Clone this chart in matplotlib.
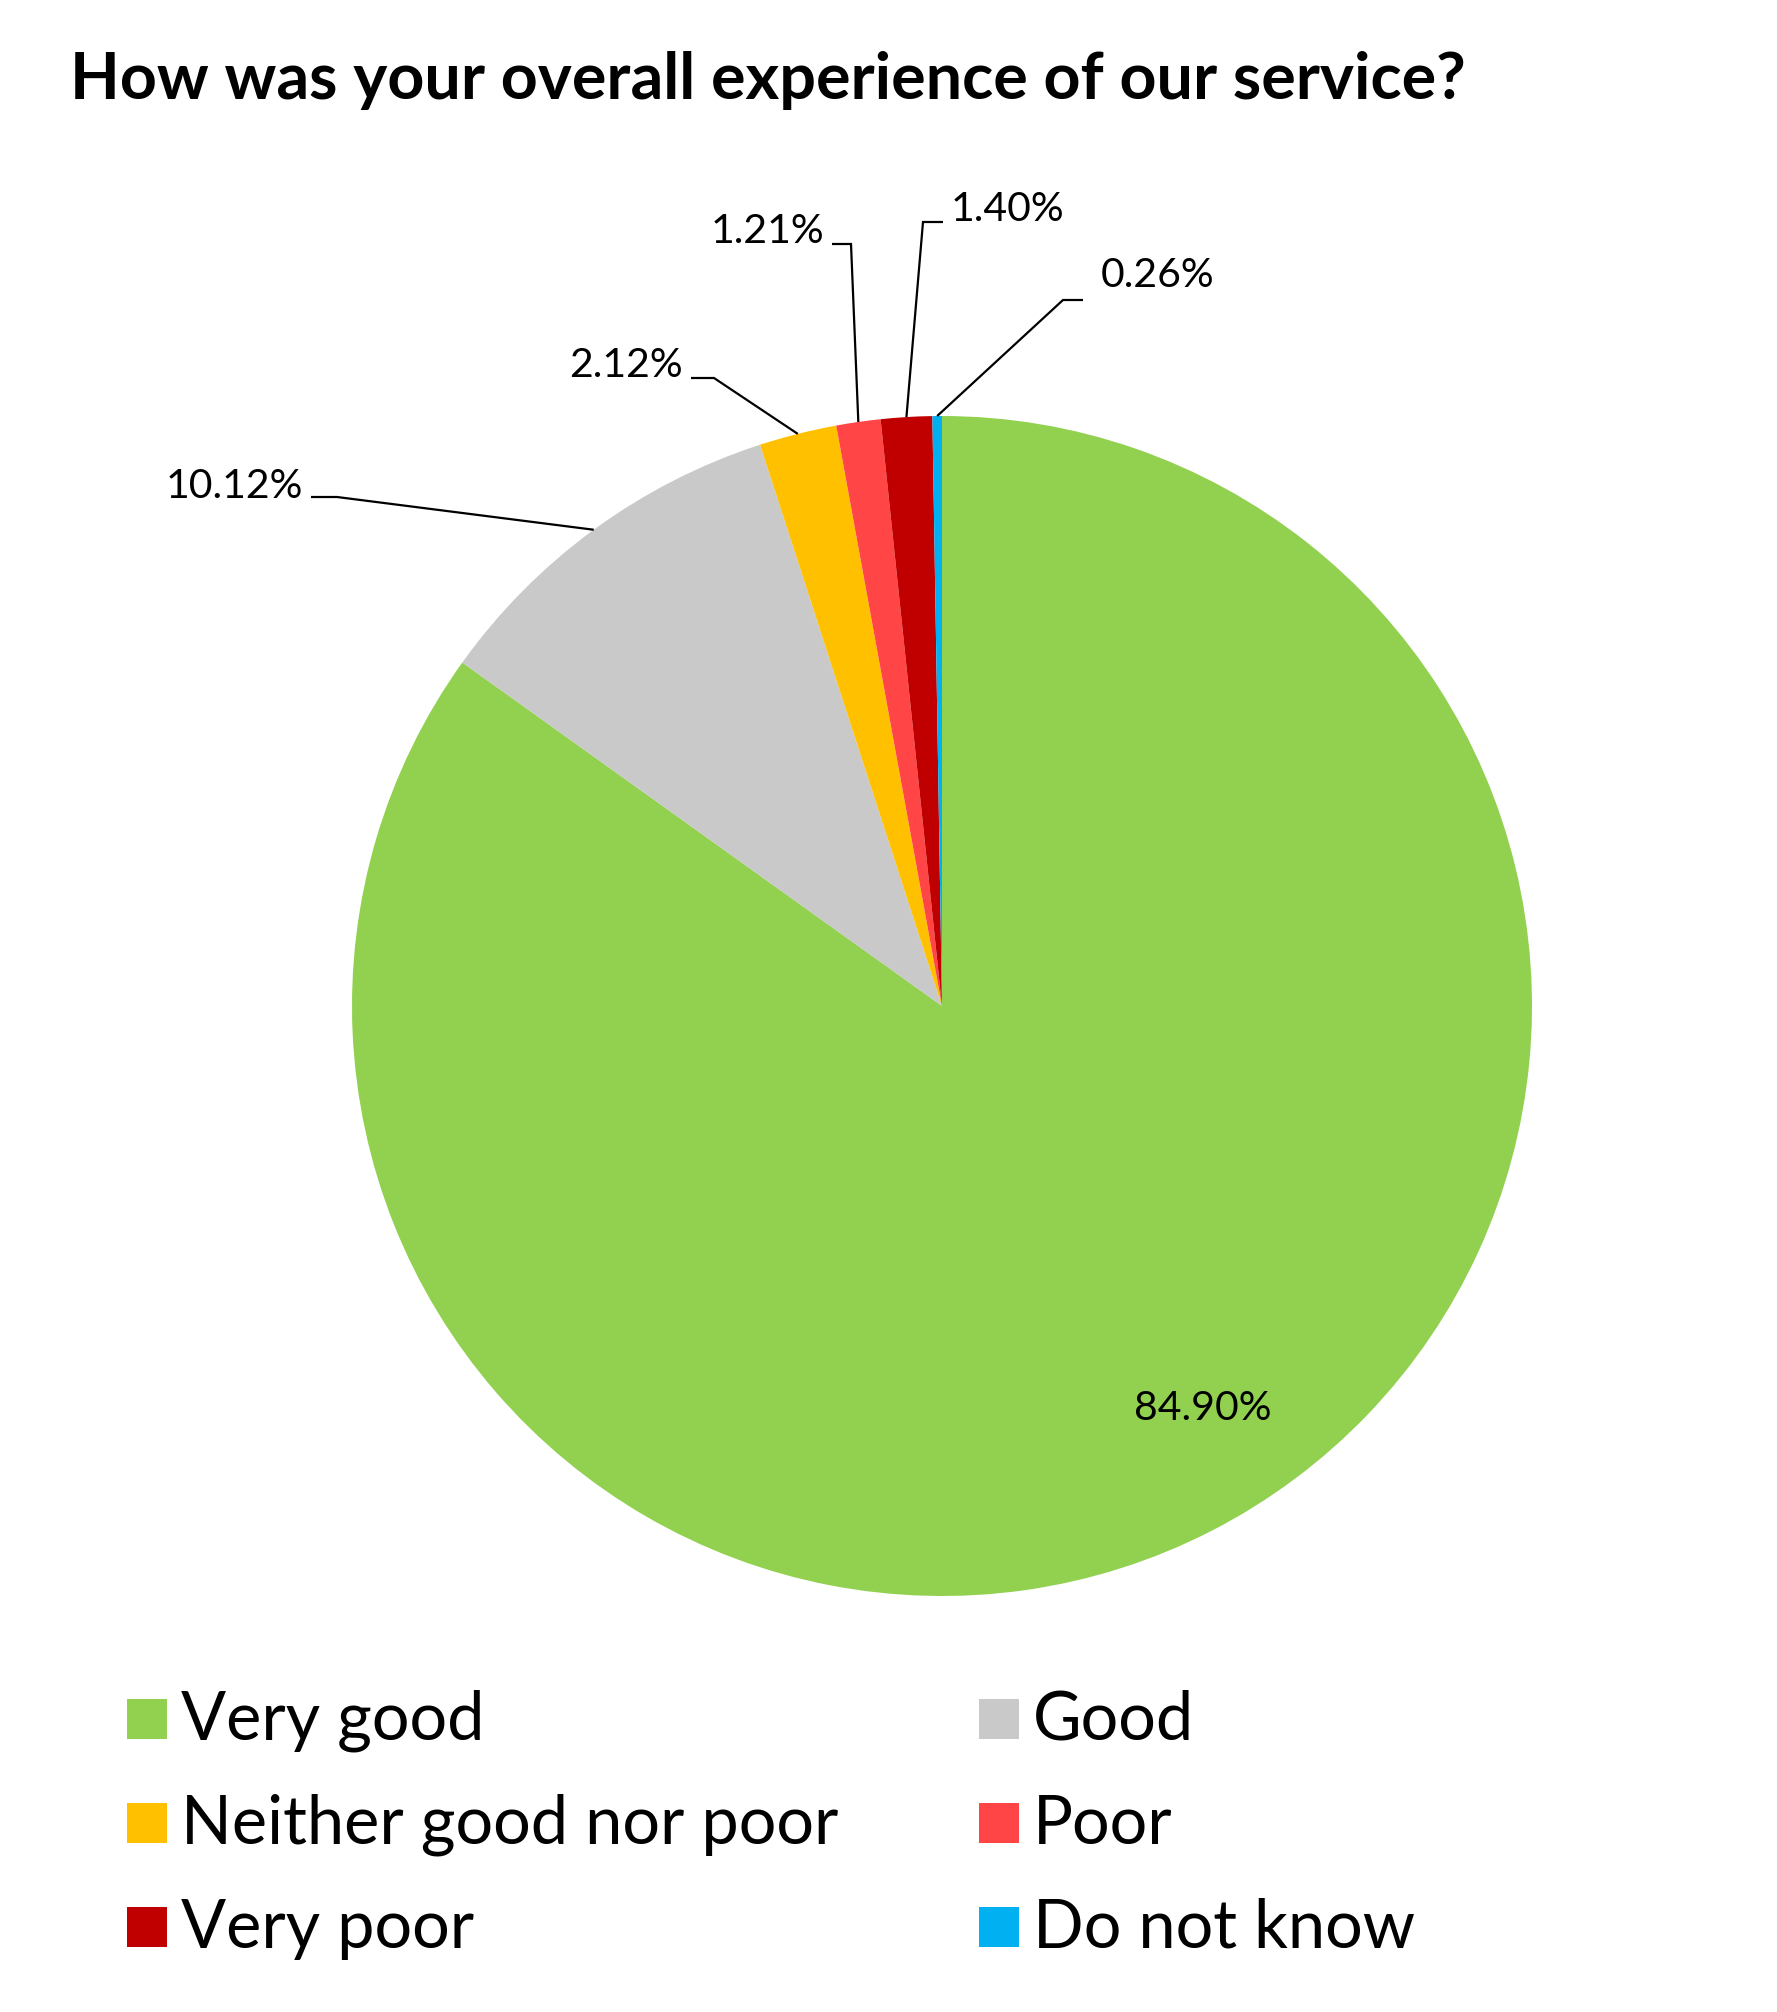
import numpy as np
import matplotlib.pyplot as plt
from matplotlib.patches import Rectangle

# data
categories = ["Very good", "Good", "Neither good nor poor", "Poor", "Very poor", "Do not know"]
shares = [84.90, 10.12, 2.12, 1.21, 1.40, 0.26]
colors = ["#92D050", "#C9C9C9", "#FFC000", "#FF4545", "#C00000", "#00B0F0"]
title = "How was your overall experience of our service?"

W, H = 1777, 2012
cx, cy, R = 942, 1006, 590

# label layout in pixels (text centre, elbow, end of short horizontal)
text_xy = [(1203, 1408), (234, 486), (626, 365), (767, 231), (1007, 209), (1158, 275)]
elbow_xy = [None, (337, 497), (714, 378), (851, 244), (923, 222), (1063, 300)]
hend_xy = [None, (311, 497), (691, 378), (832, 244), (943, 222), (1083, 300)]

plt.rcParams["font.family"] = ["Lato", "DejaVu Sans"]

fig = plt.figure(figsize=(W / 100, H / 100), dpi=100)
ax = fig.add_axes([0, 0, 1, 1])


def fy(y):
    return H - y


wedges, _ = ax.pie(shares, colors=colors, startangle=90, counterclock=False,
                   center=(cx, fy(cy)), radius=R, wedgeprops=dict(linewidth=0))
ax.set_xlim(0, W)
ax.set_ylim(0, H)
ax.set_aspect("equal")
ax.axis("off")

for i, w in enumerate(wedges):
    lab = "{:.2f}%".format(shares[i])
    tx, ty = text_xy[i]
    ax.text(tx, fy(ty), lab, ha="center", va="center", fontsize=29.5, color="black")
    if elbow_xy[i] is None:
        continue
    ang = np.deg2rad((w.theta1 + w.theta2) / 2.0)
    ex = cx + R * np.cos(ang)
    ey = fy(cy) + R * np.sin(ang)
    bx, by = elbow_xy[i]
    hx, hy = hend_xy[i]
    ax.plot([ex, bx, hx], [ey, fy(by), fy(hy)], color="black", lw=1.6,
            solid_capstyle="butt", solid_joinstyle="miter")

# title
ax.text(70, fy(80), title, ha="left", va="center", fontsize=46.5, fontweight="bold")

# legend drawn by hand, 2 columns
col_x = [127, 979]
row_y0 = 1719
row_step = 104
for i, (lab, col) in enumerate(zip(categories, colors)):
    x = col_x[i % 2]
    y = row_y0 + row_step * (i // 2)
    ax.add_patch(Rectangle((x, fy(y) - 20), 40, 40, facecolor=col, edgecolor="none"))
    ax.text(x + 54, fy(y) - 2, lab, ha="left", va="center", fontsize=48)

fig.savefig("out.png", dpi=100, facecolor="white")
